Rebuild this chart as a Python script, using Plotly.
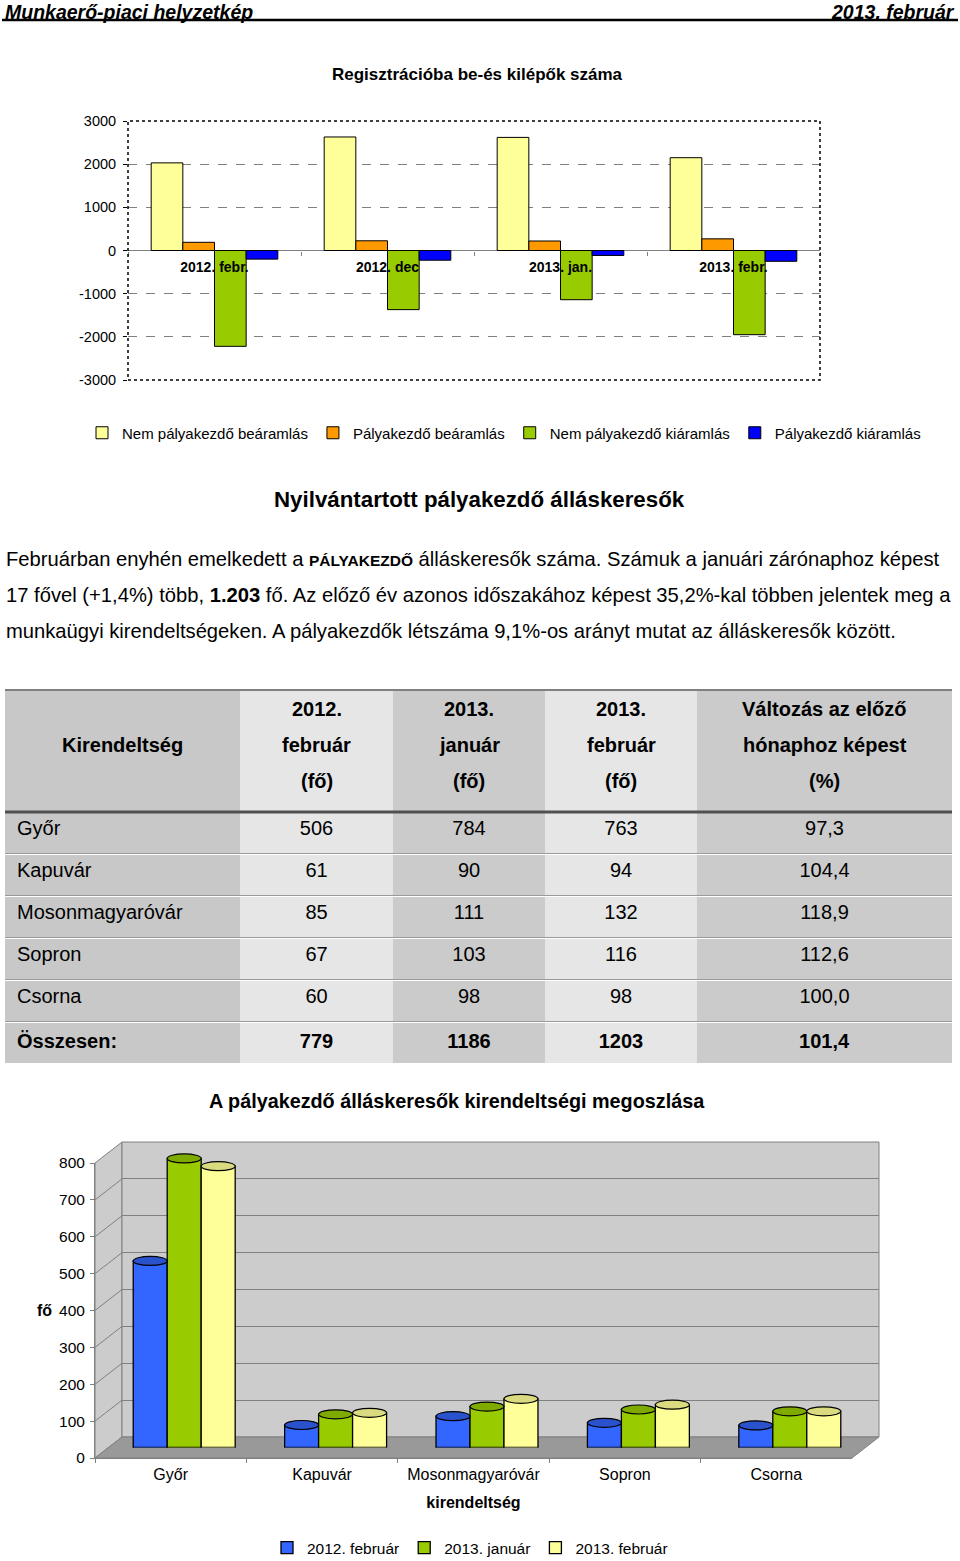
import plotly.graph_objects as go

W, H = 960, 1561
FONT = "Liberation Sans, Arial, sans-serif"

# ---------------- data ----------------
top_categories = ["2012. febr.", "2012. dec", "2013. jan.", "2013. febr."]
nem_palyakezdo_be = [2030, 2630, 2620, 2150]
palyakezdo_be = [190, 225, 220, 270]
nem_palyakezdo_ki = [-2220, -1370, -1140, -1950]
palyakezdo_ki = [-200, -225, -115, -250]
top_series_names = ["Nem pályakezdő beáramlás", "Pályakezdő beáramlás",
                    "Nem pályakezdő kiáramlás", "Pályakezdő kiáramlás"]
top_ticks = [-3000, -2000, -1000, 0, 1000, 2000, 3000]

kirendeltseg = ["Győr", "Kapuvár", "Mosonmagyaróvár", "Sopron", "Csorna"]
feb_2012 = [506, 61, 85, 67, 60]
jan_2013 = [784, 90, 111, 103, 98]
feb_2013 = [763, 94, 132, 116, 98]
valtozas = [97.3, 104.4, 118.9, 112.6, 100.0]
osszesen = [779, 1186, 1203, 101.4]
table_header = [["", "Kirendeltség", ""],
                ["2012.", "február", "(fő)"],
                ["2013.", "január", "(fő)"],
                ["2013.", "február", "(fő)"],
                ["Változás az előző", "hónaphoz képest", "(%)"]]
bottom_series_names = ["2012. február", "2013. január", "2013. február"]
bottom_ticks = [0, 100, 200, 300, 400, 500, 600, 700, 800]


def py(p):
    return 1 - p / H


def px(p):
    return p / W


fig = go.Figure()

# ---------------- top chart ----------------
top_colors = ["#FFFF99", "#FF9900", "#99CC00", "#0000FF"]
top_vals = [nem_palyakezdo_be, palyakezdo_be, nem_palyakezdo_ki, palyakezdo_ki]
bw = 0.183
for k, (name, vals, col) in enumerate(zip(top_series_names, top_vals, top_colors)):
    fig.add_trace(go.Bar(
        x=top_categories, y=vals, name=name, xaxis="x", yaxis="y",
        marker=dict(color=col, line=dict(color="#000000", width=1)),
        width=bw, offset=-2 * bw + k * bw, legend="legend"))

top_ydom = [py(380), py(121)]

# ---------------- bottom chart (3D-like) ----------------
bot_colors = ["#3366FF", "#99CC00", "#FFFF99"]
bot_top_colors = ["#2A52CC", "#7FAA00", "#DADA80"]
bot_vals = [feb_2012, jan_2013, feb_2013]
bbw = 0.2245
for k, (name, vals, col) in enumerate(zip(bottom_series_names, bot_vals, bot_colors)):
    fig.add_trace(go.Bar(
        x=kirendeltseg, y=vals, name=name, xaxis="x6", yaxis="y6",
        marker=dict(color=col, line=dict(color="#000000", width=1.3)),
        width=bbw, offset=-1.5 * bbw + k * bbw, legend="legend2"))

# invisible anchor trace so the back-wall subplot exists
fig.add_trace(go.Scatter(x=[0.5], y=[0], xaxis="x5", yaxis="y5", mode="markers",
                         marker=dict(opacity=0), showlegend=False, hoverinfo="skip"))

# ---------------- table ----------------
def fmt(v):
    return f"{v:.1f}".replace(".", ",")

PAD = "\u2009"
col1 = [PAD + n for n in kirendeltseg] + [PAD + "<b>Összesen:</b>"]
col2 = [str(v) for v in feb_2012] + [f"<b>{osszesen[0]}</b>"]
col3 = [str(v) for v in jan_2013] + [f"<b>{osszesen[1]}</b>"]
col4 = [str(v) for v in feb_2013] + [f"<b>{osszesen[2]}</b>"]
col5 = [fmt(v) for v in valtozas] + [f"<b>{fmt(osszesen[3])}</b>"]
col_fill = ["#C8C8C8", "#E6E6E6", "#CBCBCB", "#E6E6E6", "#CBCBCB"]
col_widths = [235, 153, 152, 152, 255]
TBL_X0, TBL_X1, TBL_Y0, HDR_H, ROW_H = 5, 952, 690, 122, 42

fig.add_trace(go.Table(
    domain=dict(x=[px(TBL_X0), px(TBL_X1)], y=[py(TBL_Y0 + HDR_H + ROW_H * len(col1)), py(TBL_Y0)]),
    columnwidth=col_widths,
    header=dict(values=["", "", "", "", ""], fill=dict(color=col_fill), align="center",
                font=dict(family=FONT, size=20, color="black"), height=HDR_H,
                line=dict(width=0, color="rgba(0,0,0,0)")),
    cells=dict(values=[col1, col2, col3, col4, col5], fill=dict(color=col_fill),
               align=["left", "center", "center", "center", "center"],
               font=dict(family=FONT, size=20, color="black"), height=ROW_H,
               line=dict(width=0, color="rgba(0,0,0,0)"))))

shapes = []
annotations = []

# table header text (centred lines, 36 px line pitch)
xc = TBL_X0
for w, lines in zip(col_widths, table_header):
    for j, t in enumerate(lines):
        if t:
            annotations.append(dict(text=f"<b>{t}</b>", xref="paper", yref="paper",
                                    x=px(xc + w / 2), y=py(TBL_Y0 + 19 + 36 * j),
                                    xanchor="center", yanchor="middle", showarrow=False,
                                    font=dict(family=FONT, size=20, color="black")))
    xc += w

# header rule
shapes.append(dict(type="line", xref="paper", yref="paper", x0=px(2), x1=px(958),
                   y0=py(20), y1=py(20), line=dict(color="black", width=2.5)))
annotations.append(dict(text="<b><i>Munkaerő-piaci helyzetkép</i></b>", xref="paper", yref="paper",
                        x=px(4), y=py(0), xanchor="left", yanchor="top", showarrow=False,
                        borderpad=0, font=dict(family=FONT, size=19.5, color="black")))
annotations.append(dict(text="<b><i>2013. február</i></b>", xref="paper", yref="paper",
                        x=px(956), y=py(0), xanchor="right", yanchor="top", showarrow=False,
                        borderpad=0, font=dict(family=FONT, size=19.5, color="black")))

# top chart title + border
annotations.append(dict(text="<b>Regisztrációba be-és kilépők száma</b>", xref="paper", yref="paper",
                        x=px(477), y=py(75), xanchor="center", yanchor="middle", showarrow=False,
                        font=dict(family=FONT, size=17, color="black")))
shapes.append(dict(type="rect", xref="x domain", yref="y domain", x0=0, x1=1, y0=0, y1=1,
                   line=dict(color="black", width=1.5, dash="dot"), layer="above"))

# section title + paragraph
annotations.append(dict(text="<b>Nyilvántartott pályakezdő álláskeresők</b>", xref="paper", yref="paper",
                        x=px(479), y=py(499), xanchor="center", yanchor="middle", showarrow=False,
                        font=dict(family=FONT, size=22.3, color="black")))
para = [
    "Februárban enyhén emelkedett a <b><span style='font-size:15.5px'>PÁLYAKEZDŐ</span></b> "
    "álláskeresők száma. Számuk a januári zárónaphoz képest",
    "17 fővel (+1,4%) több, <b>1.203</b> fő. Az előző év azonos időszakához képest "
    "35,2%-kal többen jelentek meg a",
    "munkaügyi kirendeltségeken. A pályakezdők létszáma 9,1%-os arányt mutat az álláskeresők között.",
]
for i, line in enumerate(para):
    annotations.append(dict(text=line, xref="paper", yref="paper", x=px(4), y=py(559 + 36 * i),
                            xanchor="left", yanchor="middle", showarrow=False,
                            font=dict(family=FONT, size=20.2, color="black")))

# table rules
shapes.append(dict(type="line", xref="paper", yref="paper", x0=px(TBL_X0), x1=px(TBL_X1),
                   y0=py(TBL_Y0), y1=py(TBL_Y0), line=dict(color="#808080", width=2)))
shapes.append(dict(type="line", xref="paper", yref="paper", x0=px(TBL_X0), x1=px(TBL_X1),
                   y0=py(TBL_Y0 + HDR_H), y1=py(TBL_Y0 + HDR_H), line=dict(color="#505050", width=3)))
for i in range(1, len(col1)):
    yb = TBL_Y0 + HDR_H + ROW_H * i
    shapes.append(dict(type="line", xref="paper", yref="paper", x0=px(TBL_X0), x1=px(TBL_X1),
                       y0=py(yb - 0.5), y1=py(yb - 0.5), line=dict(color="#9A9A9A", width=1)))
    shapes.append(dict(type="line", xref="paper", yref="paper", x0=px(TBL_X0), x1=px(TBL_X1),
                       y0=py(yb + 0.5), y1=py(yb + 0.5), line=dict(color="#FFFFFF", width=1)))

# bottom chart title
annotations.append(dict(text="<b>A pályakezdő álláskeresők kirendeltségi megoszlása</b>",
                        xref="paper", yref="paper", x=px(457), y=py(1101), xanchor="center",
                        yanchor="middle", showarrow=False,
                        font=dict(family=FONT, size=19.8, color="black")))
annotations.append(dict(text="<b>fő</b>", xref="paper", yref="paper", x=px(44), y=py(1310),
                        xanchor="center", yanchor="middle", showarrow=False,
                        font=dict(family=FONT, size=16, color="black")))

# 3D-like walls for bottom chart
FX0, FX1, FY0, FY1 = 95, 852, 1458, 1163   # front plane
DX, DY = 27, 21                              # depth offset
wall_c, floor_c, grid_c = "#CCCCCC", "#999999", "#808080"
shapes.append(dict(type="path", xref="paper", yref="paper", layer="below",
                   path=f"M{px(FX0)},{py(FY0)} L{px(FX0)},{py(FY1)} L{px(FX0+DX)},{py(FY1-DY)} "
                        f"L{px(FX0+DX)},{py(FY0-DY)} Z",
                   fillcolor=wall_c, line=dict(color=grid_c, width=1)))
shapes.append(dict(type="rect", xref="x5 domain", yref="y5 domain", layer="below",
                   x0=0, x1=1, y0=0, y1=1, fillcolor=wall_c, line=dict(color=grid_c, width=1)))
shapes.append(dict(type="path", xref="paper", yref="paper", layer="below",
                   path=f"M{px(FX0)},{py(FY0)} L{px(FX1)},{py(FY0)} L{px(FX1+DX)},{py(FY0-DY)} "
                        f"L{px(FX0+DX)},{py(FY0-DY)} Z",
                   fillcolor=floor_c, line=dict(color=grid_c, width=1)))
for v in bottom_ticks[1:]:
    shapes.append(dict(type="line", xref="paper", yref="y4", ysizemode="pixel", yanchor=v,
                       x0=px(FX0), x1=px(FX0 + DX), y0=0, y1=DY, layer="below",
                       line=dict(color=grid_c, width=1)))

# cylinder caps
for k, (vals, col, tcol) in enumerate(zip(bot_vals, bot_colors, bot_top_colors)):
    for i, v in enumerate(vals):
        x0 = i - 1.5 * bbw + k * bbw
        shapes.append(dict(type="circle", xref="x6", yref="y6", ysizemode="pixel", yanchor=v,
                           x0=x0, x1=x0 + bbw, y0=-4.5, y1=4.5, layer="above",
                           fillcolor=tcol, line=dict(color="#000000", width=1.2)))
        shapes.append(dict(type="circle", xref="x6", yref="y6", ysizemode="pixel", yanchor=0,
                           x0=x0, x1=x0 + bbw, y0=-4.5, y1=4.5, layer="below",
                           fillcolor=col, line=dict(color="#000000", width=1.2)))

fig.update_layout(
    width=W, height=H, margin=dict(l=0, r=0, t=0, b=0, autoexpand=False),
    paper_bgcolor="white", plot_bgcolor="rgba(0,0,0,0)",
    font=dict(family=FONT, color="black"),
    barmode="group",
    shapes=shapes, annotations=annotations,
    # top chart axes
    xaxis=dict(domain=[px(128), px(820)], anchor="free", position=(top_ydom[0] + top_ydom[1]) / 2,
               type="category", showgrid=False, showline=False, zeroline=False,
               ticks="outside", ticklen=4, tickcolor="#808080", tickson="boundaries",
               tickfont=dict(family=FONT, size=14, color="black", weight="bold"),
               ticklabelstandoff=6),
    yaxis=dict(domain=top_ydom, anchor="x", range=[-3000, 3000], tickvals=top_ticks,
               ticktext=[str(v) for v in top_ticks],
               showgrid=True, gridcolor="#808080", griddash="dash", gridwidth=1,
               zeroline=True, zerolinecolor="#808080", zerolinewidth=1,
               showline=False, ticks="outside", ticklen=4, tickcolor="#000000",
               tickfont=dict(family=FONT, size=14.5, color="black"), ticklabelstandoff=4),
    # bottom chart front axes
    xaxis4=dict(domain=[px(FX0), px(FX1)], anchor="y4", type="category",
                range=[-0.5, 4.5], categoryarray=kirendeltseg, categoryorder="array",
                showgrid=False, zeroline=False, showline=True, linecolor=grid_c, linewidth=1,
                ticks="outside", ticklen=4, tickcolor=grid_c, tickson="boundaries",
                tickfont=dict(family=FONT, size=16, color="black"), ticklabelstandoff=2,
                title=dict(text="<b>kirendeltség</b>", font=dict(family=FONT, size=16, color="black"),
                           standoff=14)),
    yaxis4=dict(domain=[py(FY0), py(FY1)], anchor="x4", range=[0, 800], tickvals=bottom_ticks,
                showgrid=False, zeroline=False, showline=True, linecolor=grid_c, linewidth=1,
                ticks="outside", ticklen=4, tickcolor=grid_c,
                tickfont=dict(family=FONT, size=15.5, color="black"), ticklabelstandoff=2),
    # back wall axes
    xaxis5=dict(domain=[px(FX0 + DX), px(FX1 + DX)], anchor="y5", range=[0, 1], visible=False),
    yaxis5=dict(domain=[py(FY0 - DY), py(FY1 - DY)], anchor="x5", range=[0, 800],
                tickvals=bottom_ticks[1:-1], showgrid=True, gridcolor=grid_c, gridwidth=1,
                showticklabels=False, ticks="", zeroline=False, showline=False),
    # mid-depth axes for the columns
    xaxis6=dict(domain=[px(FX0 + DX / 2), px(FX1 + DX / 2)], anchor="y6", type="category",
                range=[-0.5, 4.5], categoryarray=kirendeltseg, categoryorder="array", visible=False),
    yaxis6=dict(domain=[py(FY0 - DY / 2), py(FY1 - DY / 2)], anchor="x6", range=[0, 800],
                visible=False),
    legend=dict(orientation="h", x=px(82), xanchor="left", y=py(433), yanchor="middle",
                font=dict(family=FONT, size=15, color="black"), bgcolor="rgba(0,0,0,0)",
                traceorder="normal"),
    legend2=dict(orientation="h", x=px(470), xanchor="center", y=py(1548), yanchor="middle",
                 font=dict(family=FONT, size=15.5, color="black"), bgcolor="rgba(0,0,0,0)",
                 traceorder="normal"),
)

fig.write_html("out.html")
